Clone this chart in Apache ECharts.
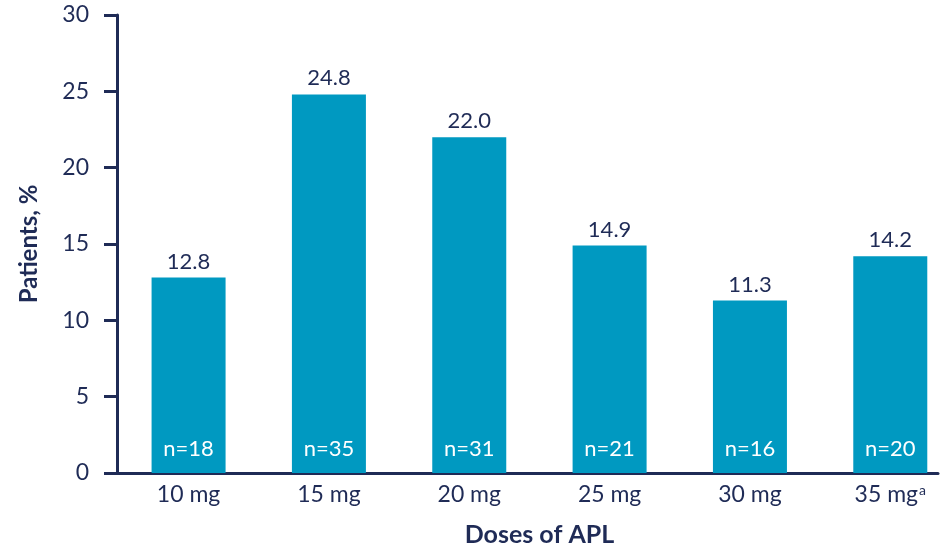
<!DOCTYPE html>
<html>
<head>
<meta charset="utf-8">
<script src="https://cdn.jsdelivr.net/npm/echarts@6/dist/echarts.min.js"></script>
<style>
  html, body { margin: 0; padding: 0; background: #fff; }
  #chart { width: 942px; height: 547px; }
</style>
</head>
<body>
<div id="chart"></div>
<script>
// Doses and the share of patients at each dose
const doses = ['10 mg', '15 mg', '20 mg', '25 mg', '30 mg', '35 mg'];
const doseNotes = ['', '', '', '', '', 'a'];
const patientPct = [12.8, 24.8, 22.0, 14.9, 11.3, 14.2];
const groupSizes = [18, 35, 31, 21, 16, 20];
const yTicks = [0, 5, 10, 15, 20, 25, 30];

const navy = '#1f2b56';
const barBlue = '#0099c1';
const font = 'Lato, "Open Sans", sans-serif';

const positions = doses.map((_, i) => i);
const barData = patientPct.map((v, i) => [i, v]);

const chart = echarts.init(document.getElementById('chart'));
chart.setOption({
  animation: false,
  grid: { left: 117, right: 4, top: 15, bottom: 74, containLabel: false, outerBoundsMode: 'none' },
  xAxis: {
    type: 'value',
    min: -0.51,
    max: 5.34,
    name: 'Doses of APL',
    nameLocation: 'middle',
    nameGap: 49,
    nameTextStyle: { color: navy, fontFamily: font, fontSize: 25, fontWeight: 'bold', padding: [0, 0, 0, 24] },
    axisLine: { show: true, onZero: false, lineStyle: { color: navy, width: 3 } },
    axisTick: { show: false },
    splitLine: { show: false },
    axisLabel: {
      customValues: positions,
      margin: 10,
      color: navy,
      fontFamily: font,
      fontSize: 23,
      formatter: v => {
        const i = Math.round(v);
        return doses[i] + (doseNotes[i] ? '{sup|' + doseNotes[i] + '}' : '');
      },
      rich: {
        sup: { fontSize: 14, color: navy, fontFamily: font, verticalAlign: 'top', padding: [0, 0, 10, 1] }
      }
    }
  },
  yAxis: {
    type: 'value',
    min: yTicks[0],
    max: yTicks[yTicks.length - 1],
    interval: 5,
    name: 'Patients, %',
    nameLocation: 'middle',
    nameGap: 76,
    nameTextStyle: { color: navy, fontFamily: font, fontSize: 24, fontWeight: 'bold' },
    axisLine: { show: true, onZero: false, lineStyle: { color: navy, width: 3 } },
    axisTick: { show: true, length: 13, lineStyle: { color: navy, width: 3 } },
    splitLine: { show: false },
    axisLabel: { margin: 28, color: navy, fontFamily: font, fontSize: 23 }
  },
  series: [
    {
      type: 'bar',
      data: barData,
      barWidth: 74,
      itemStyle: { color: barBlue },
      label: {
        show: true,
        position: 'top',
        distance: 5,
        color: navy,
        fontFamily: font,
        fontSize: 22,
        formatter: p => p.value[1].toFixed(1)
      }
    },
    {
      type: 'bar',
      data: barData,
      barWidth: 74,
      barGap: '-100%',
      itemStyle: { color: 'transparent' },
      label: {
        show: true,
        position: 'insideBottom',
        distance: 13,
        color: '#ffffff',
        fontFamily: font,
        fontSize: 22,
        formatter: p => 'n=' + groupSizes[p.dataIndex]
      }
    }
  ]
});
</script>
</body>
</html>
